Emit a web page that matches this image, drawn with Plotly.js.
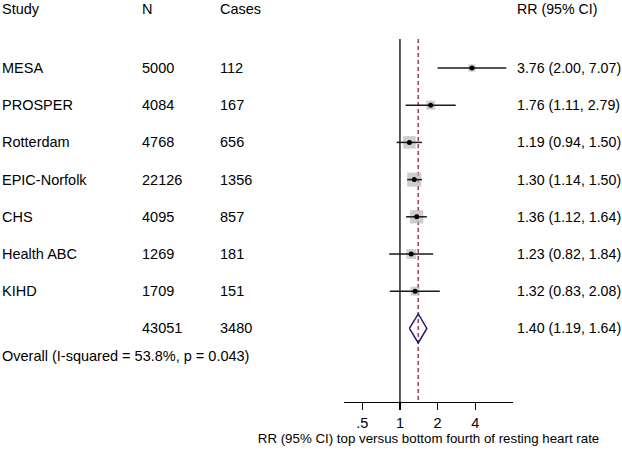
<!DOCTYPE html>
<html><head><meta charset="utf-8">
<script src="https://cdn.plot.ly/plotly-3.0.1.min.js"></script>
<style>body{margin:0;background:#fff}</style>
</head><body>
<div id="chart" style="width:622px;height:453px"></div>
<script>
// ---- data ----
const studies = ['MESA','PROSPER','Rotterdam','EPIC-Norfolk','CHS','Health ABC','KIHD'];
const nParticipants = [5000,4084,4768,22126,4095,1269,1709];
const cases = [112,167,656,1356,857,181,151];
const rr = [3.76,1.76,1.19,1.30,1.36,1.23,1.32];
const ciLow = [2.00,1.11,0.94,1.14,1.12,0.82,0.83];
const ciHigh = [7.07,2.79,1.50,1.50,1.64,1.84,2.08];
const weightPct = [6.2,9.6,18.6,23.6,20.9,11.4,9.6]; // estimated study weights (%)
const totalN = 43051;
const totalCases = 3480;
const pooledRR = 1.40, pooledLow = 1.19, pooledHigh = 1.64;
const overallLabel = 'Overall (I-squared = 53.8%, p = 0.043)';
const headers = ['Study','N','Cases','RR (95% CI)'];
const tickVals = [0.5,1,2,4];
const tickText = ['.5','1','2','4'];
const xTitle = 'RR (95% CI) top versus bottom fourth of resting heart rate';

// ---- layout helpers ----
const W = 622, H = 453;
const FONT = 'Liberation Sans, Arial, sans-serif';
const rows = studies.map((_, i) => i);
const pooledRow = studies.length;
const yTop = -0.78, yBottom = 8.978;
const fmt = v => v.toFixed(2);

const traces = [];
// null line at 1
traces.push({x:[1,1], y:[yTop,yBottom], mode:'lines', line:{color:'#000',width:1.3}, hoverinfo:'skip'});
// pooled dashed line
traces.push({x:[pooledRR,pooledRR], y:[yTop,yBottom], mode:'lines', line:{color:'#a04656',width:1.6,dash:'4px,3px'}, hoverinfo:'skip'});
// weight squares
traces.push({x:rr, y:rows, mode:'markers', marker:{symbol:'square', color:'#b9b9b9', size:weightPct.map(w=>2.9*Math.sqrt(w)), line:{width:0}}, hoverinfo:'skip'});
// CI segments
const cx = [], cy = [];
rows.forEach(i => { cx.push(ciLow[i], ciHigh[i], null); cy.push(i, i, null); });
traces.push({x:cx, y:cy, mode:'lines', line:{color:'#1a1a1a',width:1.5}, hoverinfo:'skip'});
// point estimates
traces.push({x:rr, y:rows, mode:'markers', marker:{symbol:'circle', color:'#000', size:5}, hoverinfo:'skip'});
// pooled diamond
const dh = 0.39;
traces.push({x:[pooledLow,pooledRR,pooledHigh,pooledRR,pooledLow], y:[pooledRow,pooledRow-dh,pooledRow,pooledRow+dh,pooledRow],
  mode:'lines', line:{color:'#1d1d77',width:1.5}, hoverinfo:'skip'});

const colX = [0, 140/W, 218/W, 515/W];
const ann = [];
const addText = (txt, x, y, size) => ann.push({text:txt, x:x, y:y, xref:'paper', yref:'y', xanchor:'left', yanchor:'middle', showarrow:false, font:{family:FONT,size:size||14.5,color:'#000'}});
const headerRow = -1.58;
headers.forEach((h, k) => addText(h, colX[k], headerRow, k===3?14.2:14.5));
rows.forEach(i => {
  addText(studies[i], colX[0], i);
  addText(String(nParticipants[i]), colX[1], i);
  addText(String(cases[i]), colX[2], i);
  addText(fmt(rr[i]) + ' (' + fmt(ciLow[i]) + ', ' + fmt(ciHigh[i]) + ')', colX[3], i, 14.2);
});
addText(String(totalN), colX[1], pooledRow);
addText(String(totalCases), colX[2], pooledRow);
addText(fmt(pooledRR) + ' (' + fmt(pooledLow) + ', ' + fmt(pooledHigh) + ')', colX[3], pooledRow, 14.2);
addText(overallLabel, colX[0], 7.75);

const layout = {
  width:W, height:H, margin:{l:0,r:0,t:0,b:0}, showlegend:false,
  paper_bgcolor:'#fff', plot_bgcolor:'#fff',
  xaxis:{type:'log', range:[-0.447,0.903], domain:[344/W,513/W], showline:true, linecolor:'#000', linewidth:1.3,
    ticks:'outside', ticklen:7, tickwidth:1.3, tickcolor:'#000', tickvals:tickVals, ticktext:tickText,
    showgrid:false, zeroline:false, tickfont:{family:FONT,size:14.5,color:'#000'}, fixedrange:true,
    title:{text:xTitle, font:{family:FONT,size:13.3,color:'#000'}, standoff:4}, automargin:false},
  yaxis:{range:[yBottom,-1.828], domain:[(H-402)/H,1], visible:false, showgrid:false, zeroline:false, fixedrange:true},
  annotations:ann
};
Plotly.newPlot('chart', traces, layout, {staticPlot:true, displayModeBar:false});
</script>
</body></html>
